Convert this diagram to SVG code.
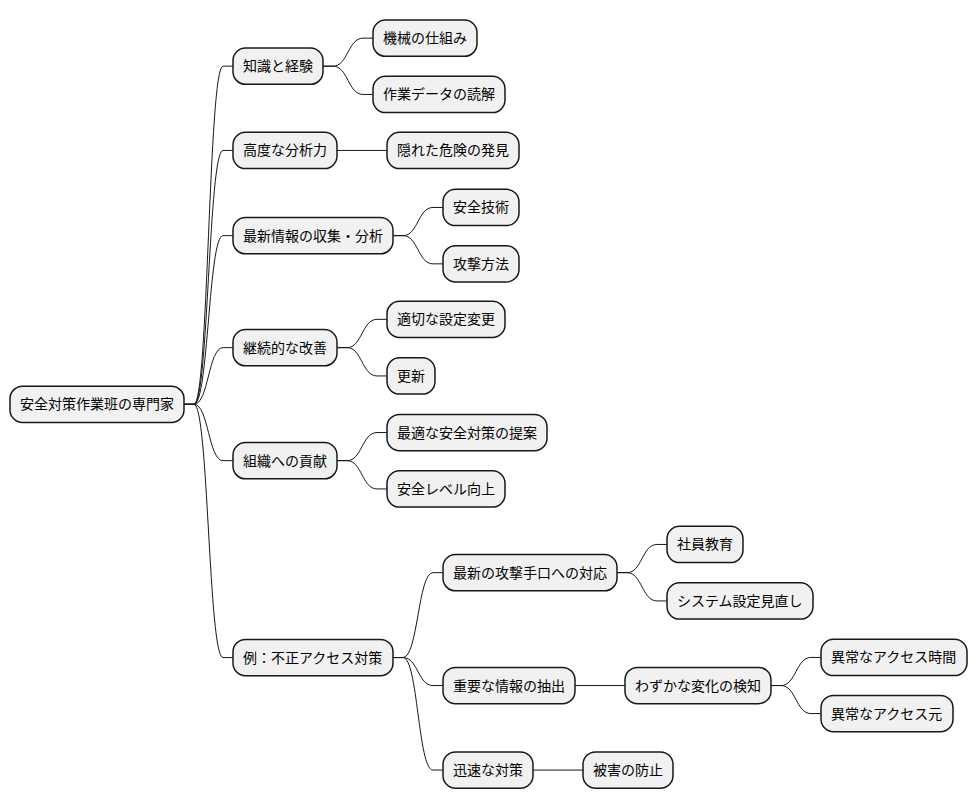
<svg xmlns="http://www.w3.org/2000/svg" width="978" height="809" viewBox="0 0 978 809">
<style>
.b{fill:#F1F1F1;stroke:#181818;stroke-width:1.5}
.t{font-family:"Noto Sans CJK JP","Noto Sans",sans-serif;font-size:14px;fill:#000}
.c{fill:none;stroke:#181818;stroke-width:1}
</style>
<rect width="978" height="809" fill="#FFFFFF"/>
<g id="connectors">
<path class="c" d="M184,404.3 H194 C208.5,404.3 208.5,66.15 223,66.15 H233"/>
<path class="c" d="M184,404.3 H194 C208.5,404.3 208.5,150.45 223,150.45 H233"/>
<path class="c" d="M184,404.3 H194 C208.5,404.3 208.5,235.65 223,235.65 H233"/>
<path class="c" d="M184,404.3 H194 C208.5,404.3 208.5,347.65 223,347.65 H233"/>
<path class="c" d="M184,404.3 H194 C208.5,404.3 208.5,460.65 223,460.65 H233"/>
<path class="c" d="M184,404.3 H194 C208.5,404.3 208.5,657.55 223,657.55 H233"/>
<path class="c" d="M323,66.15 H333 C348,66.15 348,38.15 363,38.15 H373"/>
<path class="c" d="M323,66.15 H333 C348,66.15 348,94.45 363,94.45 H373"/>
<path class="c" d="M337,150.45 H387"/>
<path class="c" d="M393,235.65 H403 C418,235.65 418,207.45 433,207.45 H443"/>
<path class="c" d="M393,235.65 H403 C418,235.65 418,263.85 433,263.85 H443"/>
<path class="c" d="M337,347.65 H347 C362,347.65 362,319.35 377,319.35 H387"/>
<path class="c" d="M337,347.65 H347 C362,347.65 362,375.95 377,375.95 H387"/>
<path class="c" d="M337,460.65 H347 C362,460.65 362,432.55 377,432.55 H387"/>
<path class="c" d="M337,460.65 H347 C362,460.65 362,488.95 377,488.95 H387"/>
<path class="c" d="M393,657.55 H403 C418,657.55 418,572.65 433,572.65 H443"/>
<path class="c" d="M393,657.55 H403 C418,657.55 418,685.55 433,685.55 H443"/>
<path class="c" d="M393,657.55 H403 C418,657.55 418,770.05 433,770.05 H443"/>
<path class="c" d="M617,572.65 H627 C642,572.65 642,544.45 657,544.45 H667"/>
<path class="c" d="M617,572.65 H627 C642,572.65 642,600.95 657,600.95 H667"/>
<path class="c" d="M575,685.55 H625"/>
<path class="c" d="M771,685.55 H781 C796,685.55 796,657.45 811,657.45 H821"/>
<path class="c" d="M771,685.55 H781 C796,685.55 796,713.55 811,713.55 H821"/>
<path class="c" d="M533,770.05 H583"/>
</g>
<g id="root"><rect class="b" x="10" y="386.2" width="174" height="36.3" rx="12.5"/><text class="t" x="20" y="409.3">安全対策作業班の専門家</text></g>
<g id="n1"><rect class="b" x="233" y="48" width="90" height="36.3" rx="12.5"/><text class="t" x="243" y="71.15">知識と経験</text></g>
<g id="n1a"><rect class="b" x="373" y="20" width="104" height="36.3" rx="12.5"/><text class="t" x="383" y="43.15">機械の仕組み</text></g>
<g id="n1b"><rect class="b" x="373" y="76.3" width="132" height="36.3" rx="12.5"/><text class="t" x="383" y="99.45">作業データの読解</text></g>
<g id="n2"><rect class="b" x="233" y="132.3" width="104" height="36.3" rx="12.5"/><text class="t" x="243" y="155.45">高度な分析力</text></g>
<g id="n2a"><rect class="b" x="387" y="132.3" width="132" height="36.3" rx="12.5"/><text class="t" x="397" y="155.45">隠れた危険の発見</text></g>
<g id="n3"><rect class="b" x="233" y="217.5" width="160" height="36.3" rx="12.5"/><text class="t" x="243" y="240.65">最新情報の収集・分析</text></g>
<g id="n3a"><rect class="b" x="443" y="189.3" width="76" height="36.3" rx="12.5"/><text class="t" x="453" y="212.45">安全技術</text></g>
<g id="n3b"><rect class="b" x="443" y="245.7" width="76" height="36.3" rx="12.5"/><text class="t" x="453" y="268.85">攻撃方法</text></g>
<g id="n4"><rect class="b" x="233" y="329.5" width="104" height="36.3" rx="12.5"/><text class="t" x="243" y="352.65">継続的な改善</text></g>
<g id="n4a"><rect class="b" x="387" y="301.2" width="118" height="36.3" rx="12.5"/><text class="t" x="397" y="324.35">適切な設定変更</text></g>
<g id="n4b"><rect class="b" x="387" y="357.8" width="48" height="36.3" rx="12.5"/><text class="t" x="397" y="380.95">更新</text></g>
<g id="n5"><rect class="b" x="233" y="442.5" width="104" height="36.3" rx="12.5"/><text class="t" x="243" y="465.65">組織への貢献</text></g>
<g id="n5a"><rect class="b" x="387" y="414.4" width="160" height="36.3" rx="12.5"/><text class="t" x="397" y="437.55">最適な安全対策の提案</text></g>
<g id="n5b"><rect class="b" x="387" y="470.8" width="118" height="36.3" rx="12.5"/><text class="t" x="397" y="493.95">安全レベル向上</text></g>
<g id="n6"><rect class="b" x="233" y="639.4" width="160" height="36.3" rx="12.5"/><text class="t" x="243" y="662.55">例：不正アクセス対策</text></g>
<g id="n6a"><rect class="b" x="443" y="554.5" width="174" height="36.3" rx="12.5"/><text class="t" x="453" y="577.65">最新の攻撃手口への対応</text></g>
<g id="n6a1"><rect class="b" x="667" y="526.3" width="76" height="36.3" rx="12.5"/><text class="t" x="677" y="549.45">社員教育</text></g>
<g id="n6a2"><rect class="b" x="667" y="582.8" width="146" height="36.3" rx="12.5"/><text class="t" x="677" y="605.95">システム設定見直し</text></g>
<g id="n6b"><rect class="b" x="443" y="667.4" width="132" height="36.3" rx="12.5"/><text class="t" x="453" y="690.55">重要な情報の抽出</text></g>
<g id="n6b1"><rect class="b" x="625" y="667.4" width="146" height="36.3" rx="12.5"/><text class="t" x="635" y="690.55">わずかな変化の検知</text></g>
<g id="n6b1a"><rect class="b" x="821" y="639.3" width="146" height="36.3" rx="12.5"/><text class="t" x="831" y="662.45">異常なアクセス時間</text></g>
<g id="n6b1b"><rect class="b" x="821" y="695.4" width="132" height="36.3" rx="12.5"/><text class="t" x="831" y="718.55">異常なアクセス元</text></g>
<g id="n6c"><rect class="b" x="443" y="751.9" width="90" height="36.3" rx="12.5"/><text class="t" x="453" y="775.05">迅速な対策</text></g>
<g id="n6c1"><rect class="b" x="583" y="751.9" width="90" height="36.3" rx="12.5"/><text class="t" x="593" y="775.05">被害の防止</text></g>
</svg>
